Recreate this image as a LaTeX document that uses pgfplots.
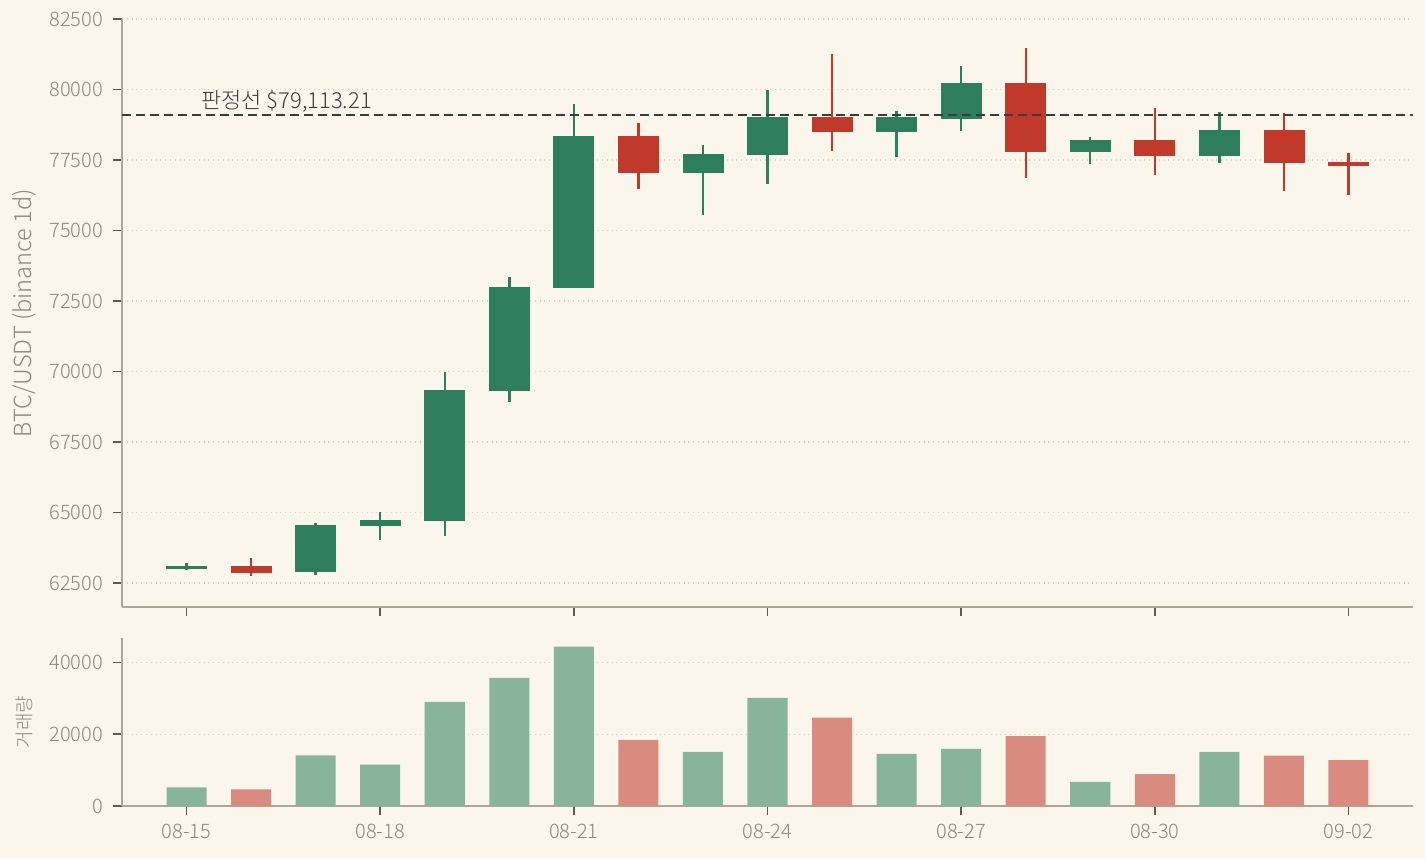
\documentclass[border=0pt]{standalone}
\usepackage{fontspec}
\setmainfont{Noto Sans CJK KR}[UprightFont={* Light}]
\usepackage{pgfplots}
\pgfplotsset{compat=1.18}
\usepgfplotslibrary{statistics}

\definecolor{bg}{HTML}{FAF6EC}
\definecolor{up}{HTML}{2E7D5B}
\definecolor{down}{HTML}{C0392B}
\definecolor{volup}{HTML}{88B49A}
\definecolor{voldown}{HTML}{D98B80}
\definecolor{spine}{HTML}{ACA696}
\definecolor{tickc}{HTML}{5F5A52}
\definecolor{txt}{HTML}{8C877B}
\definecolor{gridc}{HTML}{D2CCBE}
\definecolor{thr}{HTML}{3D3B38}

\pgfplotsset{
  base/.style={
    scale only axis,
    xmin=-1, xmax=19,
    axis x line*=bottom, axis y line*=left,
    axis line style={spine, line width=0.8pt},
    tick align=outside,
    major tick length=4.5pt,
    tick style={tickc, line width=0.8pt},
    ymajorgrids,
    grid style={gridc, dotted, line width=0.6pt},
    tick label style={txt, font=\fontsize{10}{11}\selectfont},
    yticklabel style={xshift=-1.5pt},
    label style={txt},
    /pgf/number format/assume math mode=true,
    /pgf/number format/1000 sep={},
    scaled ticks=false,
    xtick={0,3,...,18},
    clip=false,
  },
  candle/.style={
    boxplot/draw direction=y,
    boxplot/box extend=0.62,
    boxplot/whisker extend=0,
    boxplot/every box/.style={draw=#1, fill=#1, line width=0.4pt},
    boxplot/every whisker/.style={draw=#1, line width=1.2pt},
    boxplot/every median/.style={draw=none},
    mark=none,
  },
}
% x, low, body bottom, body top, high, colour
\newcommand\candle[6]{%
  \addplot[candle=#6, boxplot prepared={draw position=#1,
    lower whisker=#2, lower quartile=#3, median=#3,
    upper quartile=#4, upper whisker=#5}] coordinates {};}

\begin{document}
\begin{tikzpicture}
\fill[bg] (0,0) rectangle (712.5pt,429.5pt);
\useasboundingbox (0,0) rectangle (712.5pt,429.5pt);

% price panel
\begin{axis}[base,
    at={(61pt,126pt)}, anchor=south west,
    width=645.5pt, height=294pt,
    ymin=61650, ymax=82500,
    ytick={62500,65000,...,82500},
    xticklabels={},
    ylabel={BTC/USDT (binance 1d)},
    ylabel style={font=\fontsize{11.8}{13}\selectfont,
      at={(axis description cs:-0.0759,0.5)}, anchor=center},
]
\candle{0}{62950}{63030}{63090}{63200}{up}
\candle{1}{62740}{62890}{63100}{63380}{down}
\candle{2}{62780}{62900}{64560}{64620}{up}
\candle{3}{64010}{64530}{64730}{65030}{up}
\candle{4}{64170}{64710}{69340}{69980}{up}
\candle{5}{68920}{69340}{73000}{73350}{up}
\candle{6}{72950}{73000}{78320}{79480}{up}
\candle{7}{76460}{77050}{78320}{78800}{down}
\candle{8}{75540}{77050}{77710}{78020}{up}
\candle{9}{76640}{77690}{79000}{79980}{up}
\candle{10}{77820}{78500}{79000}{81250}{down}
\candle{11}{77600}{78500}{79000}{79240}{up}
\candle{12}{78530}{78970}{80230}{80820}{up}
\candle{13}{76860}{77790}{80230}{81460}{down}
\candle{14}{77360}{77790}{78210}{78300}{up}
\candle{15}{76960}{77650}{78210}{79350}{down}
\candle{16}{77390}{77650}{78560}{79210}{up}
\candle{17}{76400}{77400}{78560}{79180}{down}
\candle{18}{76260}{77300}{77420}{77760}{down}

% threshold
\addplot[thr, line width=1pt, dash pattern=on 4.5pt off 2.5pt] coordinates {(-1,79113.21) (19,79113.21)};
\node[anchor=south west, text=thr, inner sep=0pt, font=\fontsize{11}{12}\selectfont]
  at (axis cs:0.22,79190) {판정선 \$79,113.21};
\end{axis}

% volume panel
\begin{axis}[base,
    at={(61pt,26.5pt)}, anchor=south west,
    width=645.5pt, height=84pt,
    ymin=0, ymax=46800,
    ytick={0,20000,40000},
    xticklabels={08-15,08-18,08-21,08-24,08-27,08-30,09-02},
    xticklabel style={yshift=-1pt},
    ylabel={거래량},
    ylabel style={font=\fontsize{9.5}{10}\selectfont,
      at={(axis description cs:-0.0759,0.5)}, anchor=center},
    ybar, bar width=0.62,
]
\addplot[fill=volup, draw=none, bar shift=0pt] coordinates {
  (0,5200) (2,14100) (3,11500) (4,29000) (5,35700) (6,44400)
  (8,15100) (9,30100) (11,14500) (12,15900) (14,6700) (16,15100)
};
\addplot[fill=voldown, draw=none, bar shift=0pt] coordinates {
  (1,4600) (7,18400) (10,24600) (13,19500) (15,8900) (17,14000) (18,12800)
};
\end{axis}
\end{tikzpicture}
\end{document}
